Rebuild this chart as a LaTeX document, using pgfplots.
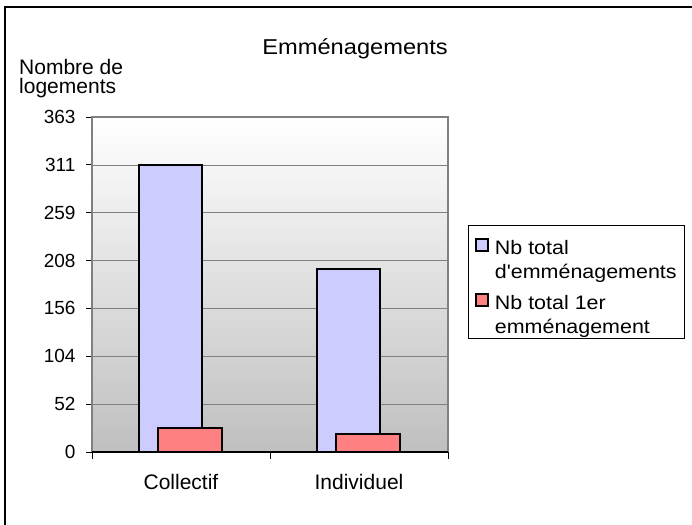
\documentclass[border=0pt]{standalone}
\usepackage{fontspec}
\setmainfont{Liberation Sans}
\newfontfamily\wide{Liberation Sans}[FakeStretch=1.1]
\usepackage{pgfplots}
\pgfplotsset{compat=1.18}
\definecolor{barblue}{RGB}{204,204,255}
\definecolor{barpink}{RGB}{255,128,128}
\definecolor{gridgray}{RGB}{128,128,128}
\begin{document}
\begin{tikzpicture}[x=1pt,y=1pt]
\useasboundingbox (0,0) rectangle (692,524);
\draw[line width=1.5pt] (5,-10) -- (5,517) -- (700,517);
\begin{axis}[
  at={(92pt,72pt)}, anchor=south west,
  scale only axis, width=356pt, height=335pt,
  xmin=-0.5, xmax=1.5, ymin=0, ymax=363,
  ybar, bar width=0.357,
  axis background/.style={top color=white, bottom color=black!25},
  axis line style={gridgray, line width=1.2pt},
  xtick={0,1}, xticklabels={Collectif,Individuel},
  ytick={0,51.857,103.714,155.571,207.429,259.286,311.143,363},
  yticklabels={0,52,104,156,208,259,311,363},
  tick align=outside, xtick pos=bottom, ytick pos=left,
  major tick length=6pt,
  tick style={black, line width=0.8pt},
  xtick style={draw=none},
  extra x ticks={-0.5,0.5,1.5}, extra x tick labels={},
  extra x tick style={major tick length=7pt, xtick style={draw=black}},
  extra y ticks={0}, extra y tick labels={},
  extra y tick style={grid=major, major grid style={black, line width=1.2pt}},
  ymajorgrids, major grid style={gridgray, line width=0.6pt},
  /pgf/number format/assume math mode=true,
  xticklabel style={font=\fontsize{21}{24}\selectfont, anchor=base, yshift=-31pt},
  yticklabel style={font=\fontsize{19}{22}\selectfont, xshift=-7pt},
  title={Emménagements},
  title style={font=\wide\fontsize{21.5}{26}\selectfont, at={(axis description cs:0.739,1.169)}, anchor=base, inner sep=0pt},
  ylabel={Nombre de\\logements},
  ylabel style={font=\fontsize{21}{19}\selectfont, align=left, rotate=-90, at={(axis description cs:-0.205,1.173)}, anchor=north west, inner sep=0pt},
  legend style={at={(axis description cs:1.0562,0.6776)}, anchor=north west, draw=black, line width=0.8pt,
    font=\wide\fontsize{19.5}{24}\selectfont, inner xsep=7pt, inner ysep=5pt,
    nodes={inner xsep=1pt, inner ysep=0.5pt}, column sep=5pt, row sep=7pt},
  legend cell align=left,
  legend image code/.code={\path[draw=none, fill=none] (0pt,-31.2pt) rectangle (12pt,16.8pt);
     \draw[#1, line width=1.5pt] (0pt,-4pt) rectangle (12pt,8pt);},
]
\addplot[fill=barblue, draw=black, line width=2pt, bar shift=-0.059] coordinates {(0,311) (1,198)};
\addplot[fill=barpink, draw=black, line width=2pt, bar shift=0.051] coordinates {(0,26) (1,19.5)};
\legend{\begin{tabular}[t]{@{}l@{}}Nb total\\d'emménagements\end{tabular},
        \begin{tabular}[t]{@{}l@{}}Nb total 1er\\emménagement\end{tabular}}
\end{axis}
\end{tikzpicture}
\end{document}
